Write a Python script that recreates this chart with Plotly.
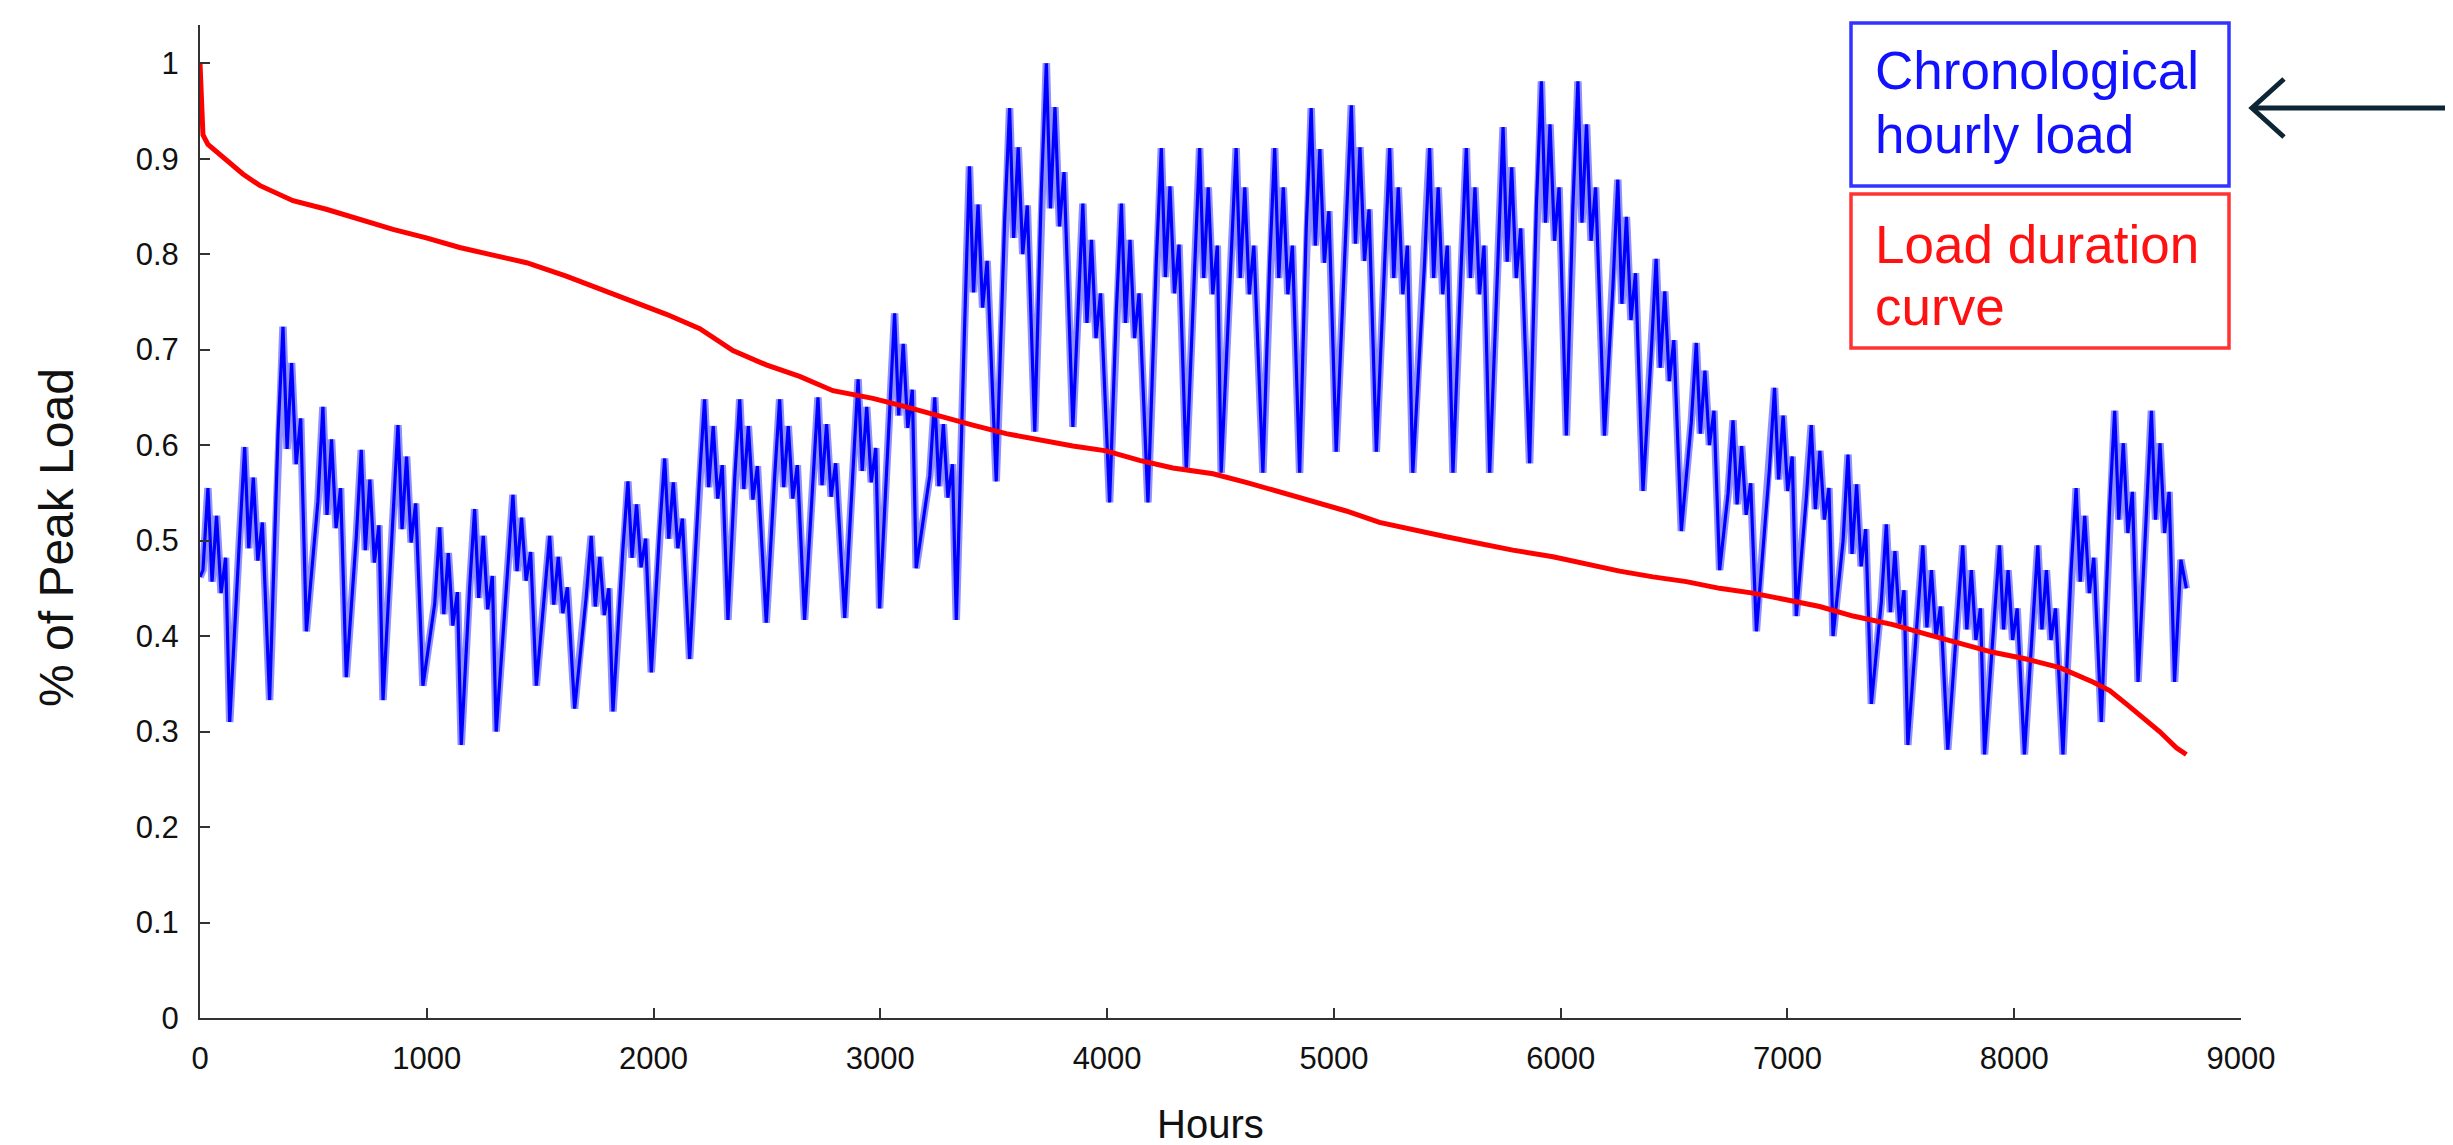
import plotly.graph_objects as go

# ---------------- data ----------------
# Chronological hourly load (weekly cycles: rise, peak, weekday swings, weekend trough)
load_hours = [
    0,
    13, 35, 53, 73, 93, 113, 131,
    175, 197, 215, 235, 255, 275, 307,
    344, 366, 384, 404, 424, 444, 469,
    520, 542, 560, 580, 600, 620, 645,
    689, 711, 729, 749, 769, 789, 807,
    851, 873, 891, 911, 931, 951, 983,
    1035, 1057, 1075, 1095, 1115, 1135, 1152,
    1189, 1211, 1229, 1249, 1269, 1289, 1306,
    1358, 1380, 1398, 1418, 1438, 1458, 1483,
    1520, 1542, 1560, 1580, 1600, 1620, 1652,
    1703, 1725, 1743, 1763, 1783, 1803, 1821,
    1865, 1887, 1905, 1925, 1945, 1965, 1990,
    2027, 2049, 2067, 2087, 2107, 2127, 2159,
    2203, 2225, 2243, 2263, 2283, 2303, 2328,
    2358, 2380, 2398, 2418, 2438, 2458, 2497,
    2534, 2556, 2574, 2594, 2614, 2634, 2666,
    2703, 2725, 2743, 2763, 2783, 2803, 2843,
    2880, 2902, 2920, 2940, 2960, 2980, 2997,
    3041, 3063, 3081, 3101, 3121, 3141, 3158,
    3218, 3240, 3258, 3278, 3298, 3318, 3335,
    3371, 3393, 3411, 3431, 3451, 3471, 3511,
    3548, 3570, 3588, 3608, 3628, 3648, 3681,
    3710, 3732, 3750, 3770, 3790, 3810, 3849,
    3871, 3893, 3911, 3931, 3951, 3971, 4011,
    4041, 4063, 4081, 4101, 4121, 4141, 4180,
    4217, 4239, 4257, 4277, 4297, 4317, 4349,
    4386, 4408, 4426, 4446, 4466, 4486, 4503,
    4547, 4569, 4587, 4607, 4627, 4647, 4687,
    4717, 4739, 4757, 4777, 4797, 4817, 4849,
    4878, 4900, 4918, 4938, 4958, 4978, 5010,
    5055, 5077, 5095, 5115, 5135, 5155, 5187,
    5224, 5246, 5264, 5284, 5304, 5324, 5348,
    5400, 5422, 5440, 5460, 5480, 5500, 5525,
    5562, 5584, 5602, 5622, 5642, 5662, 5687,
    5724, 5746, 5764, 5784, 5804, 5824, 5863,
    5893, 5915, 5933, 5953, 5973, 5993, 6025,
    6054, 6076, 6094, 6114, 6134, 6154, 6193,
    6230, 6252, 6270, 6290, 6310, 6330, 6363,
    6399, 6421, 6439, 6459, 6479, 6499, 6532,
    6576, 6598, 6616, 6636, 6656, 6676, 6701,
    6738, 6760, 6778, 6798, 6818, 6838, 6863,
    6921, 6943, 6961, 6981, 7001, 7021, 7039,
    7083, 7105, 7123, 7143, 7163, 7183, 7201,
    7245, 7267, 7285, 7305, 7325, 7345, 7370,
    7414, 7436, 7454, 7474, 7494, 7514, 7531,
    7575, 7597, 7615, 7635, 7655, 7675, 7707,
    7751, 7773, 7791, 7811, 7831, 7851, 7869,
    7913, 7935, 7953, 7973, 7993, 8013, 8045,
    8082, 8104, 8122, 8142, 8162, 8182, 8215,
    8251, 8273, 8291, 8311, 8331, 8351, 8384,
    8421, 8443, 8461, 8481, 8501, 8521, 8546,
    8583, 8605, 8623, 8643, 8663, 8683, 8707,
    8735, 8759,
]
load_values = [
    0.462,
    0.469, 0.555, 0.457, 0.526, 0.445, 0.482, 0.310,
    0.505, 0.598, 0.492, 0.566, 0.479, 0.519, 0.333,
    0.612, 0.724, 0.596, 0.686, 0.580, 0.628, 0.405,
    0.541, 0.640, 0.527, 0.606, 0.513, 0.555, 0.357,
    0.503, 0.595, 0.490, 0.564, 0.477, 0.516, 0.333,
    0.525, 0.621, 0.512, 0.588, 0.498, 0.539, 0.348,
    0.434, 0.514, 0.423, 0.487, 0.411, 0.446, 0.286,
    0.451, 0.533, 0.440, 0.505, 0.428, 0.463, 0.300,
    0.478, 0.548, 0.468, 0.524, 0.458, 0.488, 0.348,
    0.442, 0.505, 0.433, 0.483, 0.424, 0.451, 0.324,
    0.441, 0.505, 0.431, 0.483, 0.422, 0.450, 0.321,
    0.492, 0.562, 0.482, 0.538, 0.472, 0.502, 0.362,
    0.512, 0.586, 0.502, 0.561, 0.492, 0.523, 0.376,
    0.567, 0.648, 0.556, 0.620, 0.544, 0.579, 0.417,
    0.566, 0.648, 0.554, 0.620, 0.543, 0.578, 0.414,
    0.567, 0.648, 0.556, 0.620, 0.544, 0.579, 0.417,
    0.569, 0.650, 0.558, 0.622, 0.546, 0.581, 0.419,
    0.585, 0.669, 0.573, 0.640, 0.561, 0.597, 0.429,
    0.645, 0.738, 0.631, 0.706, 0.618, 0.658, 0.471,
    0.568, 0.650, 0.557, 0.622, 0.545, 0.580, 0.417,
    0.720, 0.892, 0.760, 0.852, 0.744, 0.793, 0.562,
    0.834, 0.953, 0.817, 0.912, 0.800, 0.851, 0.614,
    0.867, 1.000, 0.848, 0.954, 0.829, 0.886, 0.619,
    0.743, 0.853, 0.728, 0.815, 0.712, 0.759, 0.540,
    0.743, 0.853, 0.728, 0.815, 0.712, 0.759, 0.540,
    0.793, 0.911, 0.776, 0.871, 0.759, 0.810, 0.574,
    0.792, 0.911, 0.775, 0.870, 0.758, 0.809, 0.571,
    0.792, 0.911, 0.775, 0.870, 0.758, 0.809, 0.571,
    0.792, 0.911, 0.775, 0.870, 0.758, 0.809, 0.571,
    0.827, 0.953, 0.809, 0.910, 0.791, 0.845, 0.593,
    0.829, 0.956, 0.811, 0.912, 0.793, 0.847, 0.593,
    0.792, 0.911, 0.775, 0.870, 0.758, 0.809, 0.571,
    0.792, 0.911, 0.775, 0.870, 0.758, 0.809, 0.571,
    0.792, 0.911, 0.775, 0.870, 0.758, 0.809, 0.571,
    0.810, 0.933, 0.792, 0.891, 0.775, 0.827, 0.581,
    0.851, 0.981, 0.833, 0.936, 0.814, 0.870, 0.610,
    0.851, 0.981, 0.833, 0.936, 0.814, 0.870, 0.610,
    0.764, 0.878, 0.748, 0.839, 0.731, 0.780, 0.552,
    0.695, 0.795, 0.681, 0.761, 0.667, 0.710, 0.510,
    0.624, 0.707, 0.612, 0.678, 0.600, 0.636, 0.469,
    0.549, 0.626, 0.538, 0.599, 0.527, 0.560, 0.405,
    0.576, 0.660, 0.564, 0.631, 0.552, 0.588, 0.421,
    0.544, 0.621, 0.533, 0.594, 0.522, 0.555, 0.400,
    0.499, 0.590, 0.486, 0.559, 0.473, 0.512, 0.329,
    0.436, 0.517, 0.425, 0.489, 0.413, 0.448, 0.286,
    0.420, 0.495, 0.409, 0.469, 0.399, 0.431, 0.281,
    0.418, 0.495, 0.407, 0.469, 0.396, 0.429, 0.276,
    0.418, 0.495, 0.407, 0.469, 0.396, 0.429, 0.276,
    0.418, 0.495, 0.407, 0.469, 0.396, 0.429, 0.276,
    0.469, 0.555, 0.457, 0.526, 0.445, 0.482, 0.310,
    0.537, 0.636, 0.522, 0.602, 0.508, 0.551, 0.352,
    0.537, 0.636, 0.522, 0.602, 0.508, 0.551, 0.352,
    0.480, 0.450,
]

# Load duration curve
ldc_hours = [0, 5, 13, 35, 116, 189, 263, 410, 557, 704, 851, 998, 1145, 1292,
             1440, 1615, 1762, 1909, 2057, 2204, 2350, 2497, 2644, 2791, 2967,
             3114, 3261, 3408, 3555, 3702, 3849, 3996, 4143, 4290, 4467, 4613,
             4760, 4907, 5054, 5201, 5348, 5495, 5642, 5789, 5966, 6113, 6260,
             6407, 6554, 6701, 6848, 6995, 7142, 7289, 7465, 7612, 7759, 7906,
             8053, 8201, 8347, 8421, 8494, 8568, 8641, 8715, 8759]
ldc_values = [1.0, 0.96, 0.925, 0.915, 0.898, 0.884, 0.872, 0.856, 0.847, 0.836,
              0.826, 0.817, 0.807, 0.799, 0.791, 0.777, 0.764, 0.751, 0.737, 0.722,
              0.699, 0.684, 0.672, 0.657, 0.649, 0.640, 0.630, 0.621, 0.612,
              0.605, 0.599, 0.594, 0.584, 0.576, 0.570, 0.561, 0.551, 0.541,
              0.531, 0.519, 0.511, 0.504, 0.497, 0.490, 0.483, 0.475, 0.468,
              0.462, 0.457, 0.450, 0.445, 0.438, 0.431, 0.421, 0.412, 0.402,
              0.393, 0.383, 0.376, 0.367, 0.352, 0.343, 0.329, 0.314, 0.30,
              0.283, 0.276]

x_ticks = [0, 1000, 2000, 3000, 4000, 5000, 6000, 7000, 8000, 9000]
y_ticks = [0, 0.1, 0.2, 0.3, 0.4, 0.5, 0.6, 0.7, 0.8, 0.9, 1.0]
y_tick_text = ["0", "0.1", "0.2", "0.3", "0.4", "0.5", "0.6", "0.7", "0.8", "0.9", "1"]

box_load_lines = ["Chronological", "hourly load"]
box_ldc_lines = ["Load duration", "curve"]
x_title = "Hours"
y_title = "% of Peak Load"

# ---------------- layout geometry (pixels) ----------------
W, H = 2453, 1145
PL, PR, PT, PB = 192, 2233, 17, 1010   # plot area edges in pixels


def px(x):
    return (x - PL) / (PR - PL)


def py(y):
    return (PB - y) / (PB - PT)


FONT = "Liberation Sans, Arial, sans-serif"
INK = "#111111"

fig = go.Figure()
# light halo underneath, dark core on top (dense hourly trace look)
fig.add_trace(go.Scatter(x=load_hours, y=load_values, mode="lines",
                         line=dict(color="#9090ff", width=7.5), hoverinfo="skip"))
fig.add_trace(go.Scatter(x=load_hours, y=load_values, mode="lines",
                         line=dict(color="#0000ff", width=3.2),
                         name="Chronological hourly load", hoverinfo="x+y"))
fig.add_trace(go.Scatter(x=ldc_hours, y=ldc_values, mode="lines",
                         line=dict(color="#ff0000", width=5), name="Load duration curve",
                         hoverinfo="x+y"))

axis_common = dict(showgrid=False, zeroline=False, showline=True, linecolor="#333333",
                   linewidth=2, ticks="inside", ticklen=10, tickwidth=2,
                   tickcolor="#333333", tickfont=dict(family=FONT, size=31, color=INK))

fig.update_xaxes(range=[0, 9000], tickvals=x_ticks, ticklabelstandoff=12, **axis_common)
fig.update_yaxes(range=[0, 1.04], tickvals=y_ticks, ticktext=y_tick_text,
                 ticklabelstandoff=13, **axis_common)

BX0, BX1 = 1843, 2221
shapes = [
    dict(type="rect", xref="paper", yref="paper", x0=px(BX0), x1=px(BX1),
         y0=py(178), y1=py(15), line=dict(color="#3333ff", width=3.5), fillcolor="white"),
    dict(type="rect", xref="paper", yref="paper", x0=px(BX0), x1=px(BX1),
         y0=py(340), y1=py(186), line=dict(color="#ff3333", width=3.5), fillcolor="white"),
    dict(type="line", xref="paper", yref="paper", x0=px(2453), x1=px(2244),
         y0=py(100), y1=py(100), line=dict(color="#0d2535", width=5)),
    dict(type="path", xref="paper", yref="paper",
         path=f"M {px(2276)},{py(71)} L {px(2244)},{py(100)} L {px(2276)},{py(129)}",
         line=dict(color="#0d2535", width=5)),
]

annotations = []
for txt, yc in zip(box_load_lines, [63, 126]):
    annotations.append(dict(xref="paper", yref="paper", x=px(BX0 + 22), y=py(yc),
                            xanchor="left", yanchor="middle", text=txt, showarrow=False,
                            font=dict(family=FONT, size=53, color="#1111ff")))
for txt, yc in zip(box_ldc_lines, [236, 298]):
    annotations.append(dict(xref="paper", yref="paper", x=px(BX0 + 22), y=py(yc),
                            xanchor="left", yanchor="middle", text=txt, showarrow=False,
                            font=dict(family=FONT, size=53, color="#ff1111")))
annotations.append(dict(xref="paper", yref="paper", x=px(1202), y=py(1116),
                        xanchor="center", yanchor="middle", text=x_title, showarrow=False,
                        font=dict(family=FONT, size=40, color=INK)))
annotations.append(dict(xref="paper", yref="paper", x=px(48), y=py(530),
                        xanchor="center", yanchor="middle", text=y_title, showarrow=False,
                        textangle=-90, font=dict(family=FONT, size=48, color=INK)))

fig.update_layout(width=W, height=H, margin=dict(l=PL, r=W - PR, t=PT, b=H - PB),
                  paper_bgcolor="white", plot_bgcolor="white", showlegend=False,
                  shapes=shapes, annotations=annotations)

fig.write_html("out.html")
